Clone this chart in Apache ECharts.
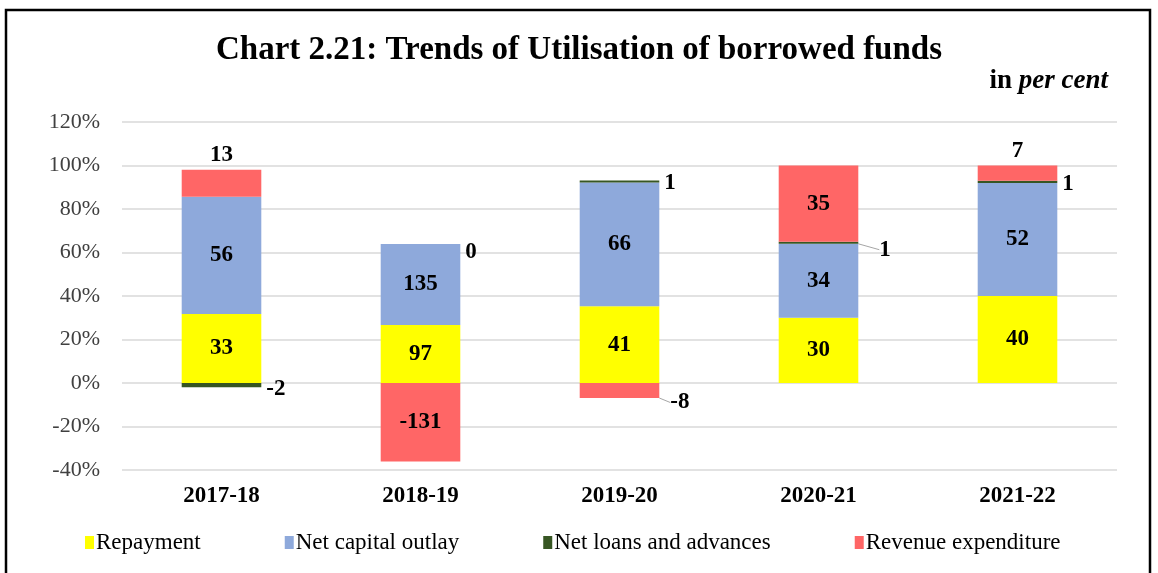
<!DOCTYPE html>
<html>
<head>
<meta charset="utf-8">
<script src="https://cdn.jsdelivr.net/npm/echarts@6/dist/echarts.min.js"></script>
<style>
  html, body { margin: 0; padding: 0; background: #fff; }
  #chart { width: 1158px; height: 573px; }
</style>
</head>
<body>
<div id="chart"></div>
<script>
  // values in per cent, as printed on the bars
  var years = ['2017-18', '2018-19', '2019-20', '2020-21', '2021-22'];
  var repayment = [33, 97, 41, 30, 40];
  var netCapitalOutlay = [56, 135, 66, 34, 52];
  var netLoans = [-2, 0, 1, 1, 1];
  var revenueExp = [13, -131, -8, 35, 7];
  var yTicks = [-40, -20, 0, 20, 40, 60, 80, 100, 120];

  var font = '"Liberation Serif", "Times New Roman", serif';

  // Excel's 100% stacked bar: each part scaled by the sum of absolute values
  var totals = years.map(function (y, i) {
    return Math.abs(repayment[i]) + Math.abs(netCapitalOutlay[i]) +
      Math.abs(netLoans[i]) + Math.abs(revenueExp[i]);
  });

  function toItems(arr, labelFor) {
    return arr.map(function (v, i) {
      var item = { value: v / totals[i] * 100, raw: v };
      var lb = labelFor ? labelFor(i) : null;
      if (lb) {
        item.label = lb.label;
        if (lb.line) item.labelLine = { show: true, lineStyle: { color: '#a6a6a6', width: 1 } };
      }
      return item;
    });
  }

  var baseLabel = {
    show: true,
    position: 'inside',
    fontFamily: font,
    fontWeight: 'bold',
    fontSize: 23,
    color: '#000',
    formatter: function (p) { return p.data.raw; }
  };

  function mkSeries(name, arr, color, labelFor, layout) {
    var s = {
      name: name,
      type: 'bar',
      stack: 'all',
      barWidth: '40%',
      itemStyle: { color: color },
      label: baseLabel,
      labelLine: { show: false },
      data: toItems(arr, labelFor)
    };
    if (layout) s.labelLayout = layout;
    return s;
  }

  var chart = echarts.init(document.getElementById('chart'));
  chart.setOption({
    animation: false,
    backgroundColor: '#fff',
    title: {
      text: 'Chart 2.21: Trends of Utilisation of borrowed funds',
      left: 'center',
      top: 29,
      textStyle: { fontFamily: font, fontWeight: 'bold', fontSize: 33, color: '#000' }
    },
    graphic: [
      {
        type: 'rect',
        shape: { x: 6, y: 10, width: 1144, height: 620 },
        style: { fill: 'none', stroke: '#000', lineWidth: 2.5 },
        silent: true
      },
      {
        type: 'text',
        right: 50,
        top: 68,
        style: {
          rich: {
            a: { fontFamily: font, fontWeight: 'bold', fontSize: 27, fill: '#000' },
            b: { fontFamily: font, fontWeight: 'bold', fontStyle: 'italic', fontSize: 27, fill: '#000' }
          },
          text: '{a|in }{b|per cent}'
        }
      }
    ],
    legend: {
      bottom: 14,
      left: 80,
      itemWidth: 9,
      itemHeight: 13,
      itemGap: 84,
      icon: 'rect',
      textStyle: { fontFamily: font, fontSize: 23, color: '#000', padding: [0, 0, 0, -3] },
      data: ['Repayment', 'Net capital outlay', 'Net loans and advances', 'Revenue expenditure']
    },
    grid: { left: 122, right: 41, top: 122, bottom: 103 },
    xAxis: {
      type: 'category',
      data: years,
      axisLine: { show: false },
      axisTick: { show: false },
      axisLabel: { fontFamily: font, fontWeight: 'bold', fontSize: 23, color: '#000', margin: 15 }
    },
    yAxis: {
      type: 'value',
      min: yTicks[0],
      max: yTicks[yTicks.length - 1],
      interval: 20,
      axisLine: { show: false },
      axisTick: { show: false },
      splitLine: { lineStyle: { color: '#d9d9d9', width: 1.5 } },
      axisLabel: { fontFamily: font, fontSize: 22, color: '#404040', margin: 22, formatter: '{value}%' }
    },
    series: [
      mkSeries('Repayment', repayment, '#FFFF00'),
      mkSeries('Net capital outlay', netCapitalOutlay, '#8EA9DB'),
      mkSeries('Net loans and advances', netLoans, '#375623', function (i) {
        return { label: { position: 'right', distance: 5 }, line: i === 3 };
      }, function (p) {
        if (p.dataIndex === 3) return { dx: 16, dy: 7 };
        if (p.dataIndex === 0) return { dy: 4 };
        if (p.dataIndex === 1) return { dy: 8 };
        return { dy: 2 };
      }),
      mkSeries('Revenue expenditure', revenueExp, '#FF6666', function (i) {
        if (i === 0 || i === 4) return { label: { position: 'top', distance: 3 } };
        if (i === 2) return { label: { position: 'right', distance: 5 }, line: true };
        return null;
      }, function (p) {
        if (p.dataIndex === 2) return { dx: 6, dy: 12 };
        return {};
      })
    ]
  });
</script>
</body>
</html>
